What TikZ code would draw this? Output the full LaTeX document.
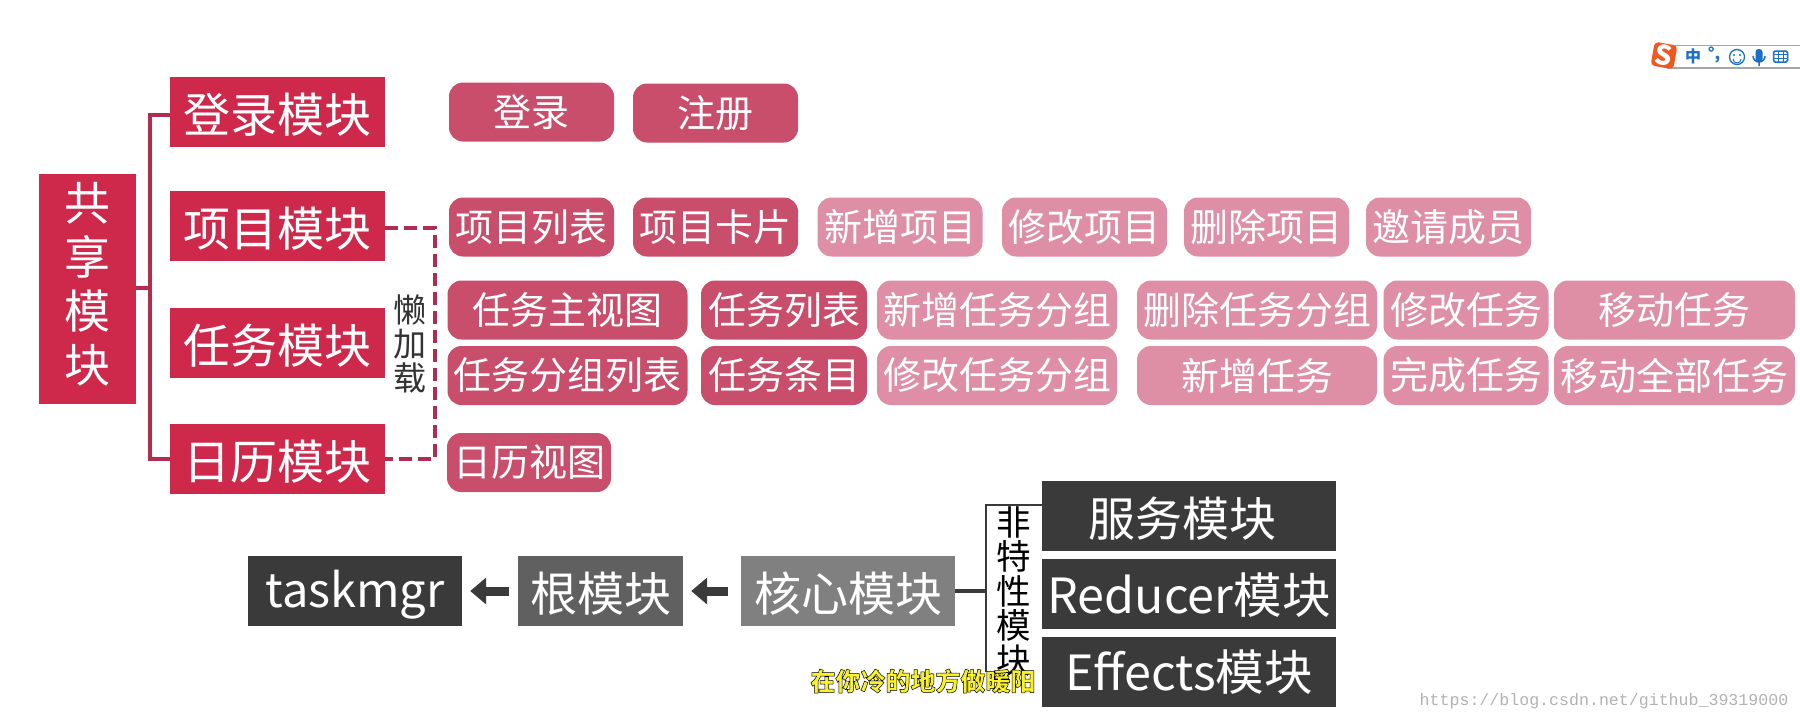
\documentclass[tikz,border=0pt]{standalone}
\usepackage{xcolor}
\usepackage{fontspec}
\setmainfont{Noto Sans CJK SC}
\newfontfamily\markfont{Liberation Mono}
\definecolor{modulered}{RGB}{206, 40, 75}
\definecolor{lazyred}{RGB}{200, 78, 108}
\definecolor{palered}{RGB}{222, 143, 166}
\definecolor{linered}{RGB}{178, 44, 80}
\definecolor{darkbox}{RGB}{58, 58, 58}
\definecolor{midbox}{RGB}{96, 96, 96}
\definecolor{lightbox}{RGB}{128, 128, 128}
\definecolor{imeblue}{RGB}{26, 111, 196}
\definecolor{imeorange}{RGB}{240, 88, 32}
\definecolor{subyellow}{RGB}{250, 240, 40}
\usetikzlibrary{arrows.meta, positioning}
\newcommand{\fs}[1]{\fontsize{#1}{#1}\selectfont}

\begin{document}
\begin{tikzpicture}[
    x=1pt, y=-1pt,
    module/.style={rectangle, fill=modulered, text=white, inner sep=0pt, text height=44pt, minimum width=215pt, minimum height=70pt, font=\fs{47}},
    pill/.style={rectangle, fill=lazyred, text=white, rounded corners=14pt, inner sep=0pt, minimum width=165pt, minimum height=59pt, font=\fs{38}},
    pillwide/.style={pill, minimum width=240pt},
    pale/.style={pill, fill=palered},
    palewide/.style={pillwide, fill=palered},
    blackbox/.style={rectangle, fill=darkbox, text=white, inner sep=0pt, text height=45pt, minimum width=294pt, minimum height=70pt, font=\fs{47}},
    bus/.style={draw=linered, line width=3.5pt},
    lazyline/.style={draw=linered, line width=3.5pt, dash pattern=on 13pt off 6pt},
    bigarrow/.style={-{Triangle[width=26pt,length=16pt]}, draw=darkbox, line width=9pt}
]
    \useasboundingbox (0, 0) rectangle (1800, 721);

    % shared module and its four children
    \node[rectangle, fill=modulered, text=white, inner sep=0pt, text depth=12.6pt, minimum width=97pt, minimum height=230pt, align=center, font=\fs{46}] (shared) at (87.5, 289) {共\\[8pt]享\\[8pt]模\\[8pt]块};
    \node[module] (login) at (277.5, 112) {登录模块};
    \node[module] (project) at (277.5, 226) {项目模块};
    \node[module] (task) at (277.5, 343) {任务模块};
    \node[module] (calendar) at (277.5, 459) {日历模块};
    \coordinate (busmid) at (150, 288);
    \draw[bus] (shared.east |- busmid) -- (busmid);
    \draw[bus] ([yshift=-3pt]login.west) -| (busmid) |- (calendar.west);

    % lazy loading
    \coordinate (lazytop) at (435, 228);
    \coordinate (lazybot) at (435, 459);
    \draw[lazyline] ([yshift=-2pt]project.east) -- (lazytop) -- (lazybot) -- (calendar.east);
    \node[align=center, inner sep=0pt, font=\fs{33}, text=black!80] (lazy) at (410, 344) {懒\\[1pt]加\\[1pt]载};

    % login row
    \node[pill] (signin) at (531.5, 112) {登录};
    \node[pill] (signup) at (715.5, 113) {注册};

    % project row
    \node[pill] (projlist) at (531.5, 227) {项目列表};
    \node[pill] (projcard) at (715.5, 227) {项目卡片};
    \node[pale] (projadd) at (900, 227) {新增项目};
    \node[pale] (projedit) at (1084.5, 227) {修改项目};
    \node[pale] (projdel) at (1266.5, 227) {删除项目};
    \node[pale] (invite) at (1448.5, 227) {邀请成员};

    % task rows
    \node[pillwide] (taskmain) at (567.5, 310) {任务主视图};
    \node[pill, minimum width=166pt] (tasklist) at (784, 310) {任务列表};
    \node[palewide] (groupadd) at (997, 310) {新增任务分组};
    \node[palewide] (groupdel) at (1257, 310) {删除任务分组};
    \node[pale] (taskedit) at (1466, 310) {修改任务};
    \node[palewide, minimum width=241pt] (taskmove) at (1674.5, 310) {移动任务};
    \node[pillwide] (grouplist) at (567.5, 375.5) {任务分组列表};
    \node[pill, minimum width=166pt] (taskitem) at (784, 375.5) {任务条目};
    \node[palewide] (groupedit) at (997, 375.5) {修改任务分组};
    \node[palewide] (taskadd) at (1257, 375.5) {新增任务};
    \node[pale] (taskdone) at (1466, 375.5) {完成任务};
    \node[palewide, minimum width=241pt] (moveall) at (1674.5, 375.5) {移动全部任务};

    % calendar row
    \node[pill, minimum width=164pt] (calview) at (529, 462.5) {日历视图};

    % lower chain
    \node[blackbox, minimum width=214pt] (taskmgr) at (355, 591) {taskmgr};
    \node[blackbox, fill=midbox, minimum width=165pt] (root) at (600.5, 591) {根模块};
    \node[blackbox, fill=lightbox, minimum width=214pt] (core) at (848, 591) {核心模块};
    \draw[bigarrow, shorten >=8pt, shorten <=9pt] (root) -- (taskmgr);
    \draw[bigarrow, shorten >=8pt, shorten <=13pt] (core) -- (root);

    % feature modules
    \node[rectangle, inner sep=0pt, minimum width=56pt, minimum height=172pt, align=center, font=\fs{34.5}] (feature) at (1014, 591) {非\\特\\性\\模\\块};
    \draw[draw=darkbox, line width=2.5pt] ([yshift=5pt]feature.south west) -- (feature.north west) -- (feature.north east);
    \draw[draw=darkbox, line width=3.5pt] (core.east) -- (core.east -| feature.west);
    \node[blackbox] (service) at (1189, 516) {服务模块\hspace*{14pt}};
    \node[blackbox, font=\fs{48.5}, text height=43pt] (reducer) at (1189, 593.5) {Reducer模块};
    \node[blackbox, font=\fs{48.5}, text height=41pt] (effects) at (1189, 671.5) {Effects模块};

    % subtitle and watermark
    \node[inner sep=0pt, font=\fs{25}\bfseries] (subtitle) at (923, 681) {\color{subyellow}\special{pdf:code 0 0 0 RG 2 Tr 0.5 w}在你冷的地方做暖阳\special{pdf:code 0 Tr}};
    \node[inner sep=0pt, text=black!30, font=\markfont\fs{16.6}] (watermark) at (1604, 701) {https://blog.csdn.net/github\_39319000};

    % input method bar
    \draw[draw=black!35, fill=white, line width=1.5pt] (1668, 45.5) rectangle (1802, 68);
    \node[rectangle, fill=imeorange, text=white, rounded corners=4pt, rotate=-10, inner sep=0pt, minimum width=23pt, minimum height=24pt, font=\fs{27}\bfseries] (imelogo) at (1664, 55.5) {S};
    \node[inner sep=0pt, text=imeblue, font=\fs{16}\bfseries] (imezh) at (1693, 56) {中};
    \node[inner sep=0pt, text=imeblue, font=\fs{16}\bfseries] (imedot) at (1714, 55) {°,};
    \node[circle, draw=imeblue, line width=1.3pt, inner sep=0pt, minimum width=15pt] (imesmile) at (1737, 57) {};
    \fill[imeblue] (1734, 55) circle (1.1) (1740, 55) circle (1.1);
    \draw[draw=imeblue, line width=1pt] (1733, 59) arc (180:0:4);
    \node[rectangle, fill=imeblue, rounded corners=3pt, inner sep=0pt, minimum width=7pt, minimum height=13pt] (imemic) at (1759, 55.5) {};
    \draw[draw=imeblue, line width=1.5pt] (1753, 56) arc (180:0:6) (1759, 62) -- (1759, 66);
    \node[rectangle, draw=imeblue, line width=1.5pt, rounded corners=1.5pt, inner sep=0pt, minimum width=14pt, minimum height=11pt] (imekeys) at (1780.5, 56.5) {};
    \draw[draw=imeblue, line width=1pt] (1774, 54) -- (1787, 54) (1774, 58) -- (1787, 58) (1778.5, 51) -- (1778.5, 62) (1783, 51) -- (1783, 62);
\end{tikzpicture}
\end{document}
